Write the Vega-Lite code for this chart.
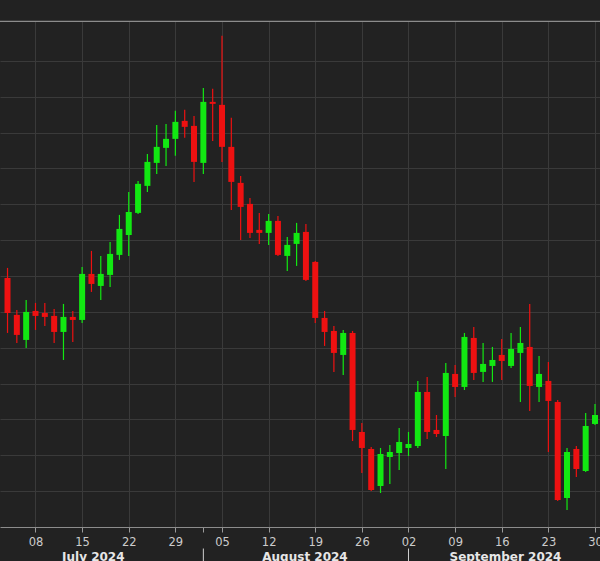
{
  "$schema": "https://vega.github.io/schema/vega-lite/v6.json",
  "width": 600,
  "height": 506,
  "autosize": {"type": "none"},
  "padding": {"left": 0, "top": 21, "right": 0, "bottom": 34},
  "background": "#222222",
  "config": {"view": {"stroke": null}},
  "datasets": {
    "candles": [
      {"d":"2024-07-03","t":-3,"o":6.946,"h":7.225,"l":5.411,"c":5.969},
      {"d":"2024-07-04","t":-2,"o":5.914,"h":6.053,"l":5.132,"c":5.356},
      {"d":"2024-07-05","t":-1,"o":5.216,"h":6.332,"l":4.993,"c":5.997},
      {"d":"2024-07-08","t":0,"o":6.025,"h":6.248,"l":5.495,"c":5.886},
      {"d":"2024-07-09","t":1,"o":5.969,"h":6.248,"l":5.607,"c":5.858},
      {"d":"2024-07-10","t":2,"o":5.886,"h":6.081,"l":5.132,"c":5.439},
      {"d":"2024-07-11","t":3,"o":5.439,"h":6.220,"l":4.658,"c":5.858},
      {"d":"2024-07-12","t":4,"o":5.858,"h":6.025,"l":5.160,"c":5.774},
      {"d":"2024-07-15","t":5,"o":5.774,"h":7.252,"l":5.690,"c":7.057},
      {"d":"2024-07-16","t":6,"o":7.057,"h":7.699,"l":6.555,"c":6.778},
      {"d":"2024-07-17","t":7,"o":6.722,"h":7.559,"l":6.332,"c":7.057},
      {"d":"2024-07-18","t":8,"o":7.029,"h":7.950,"l":6.695,"c":7.615},
      {"d":"2024-07-19","t":9,"o":7.587,"h":8.703,"l":7.448,"c":8.312},
      {"d":"2024-07-22","t":10,"o":8.145,"h":9.344,"l":7.559,"c":8.787},
      {"d":"2024-07-23","t":11,"o":8.759,"h":9.651,"l":8.731,"c":9.568},
      {"d":"2024-07-24","t":12,"o":9.512,"h":10.404,"l":9.344,"c":10.181},
      {"d":"2024-07-25","t":13,"o":10.153,"h":11.213,"l":9.847,"c":10.600},
      {"d":"2024-07-26","t":14,"o":10.572,"h":11.241,"l":10.070,"c":10.823},
      {"d":"2024-07-29","t":15,"o":10.823,"h":11.604,"l":10.349,"c":11.297},
      {"d":"2024-07-30","t":16,"o":11.325,"h":11.632,"l":10.851,"c":11.158},
      {"d":"2024-07-31","t":17,"o":11.185,"h":11.464,"l":9.623,"c":10.181},
      {"d":"2024-08-01","t":18,"o":10.153,"h":12.245,"l":9.847,"c":11.855},
      {"d":"2024-08-02","t":19,"o":11.855,"h":12.218,"l":10.767,"c":11.799},
      {"d":"2024-08-05","t":20,"o":11.771,"h":13.696,"l":10.181,"c":10.600},
      {"d":"2024-08-06","t":21,"o":10.600,"h":11.409,"l":8.842,"c":9.623},
      {"d":"2024-08-07","t":22,"o":9.596,"h":9.791,"l":8.006,"c":8.926},
      {"d":"2024-08-08","t":23,"o":9.010,"h":9.177,"l":8.061,"c":8.201},
      {"d":"2024-08-09","t":24,"o":8.285,"h":8.759,"l":7.894,"c":8.201},
      {"d":"2024-08-12","t":25,"o":8.201,"h":8.731,"l":7.866,"c":8.536},
      {"d":"2024-08-13","t":26,"o":8.536,"h":8.675,"l":7.559,"c":7.587},
      {"d":"2024-08-14","t":27,"o":7.559,"h":8.089,"l":7.141,"c":7.866},
      {"d":"2024-08-15","t":28,"o":7.894,"h":8.480,"l":7.280,"c":8.201},
      {"d":"2024-08-16","t":29,"o":8.229,"h":8.452,"l":6.862,"c":6.890},
      {"d":"2024-08-19","t":30,"o":7.392,"h":7.420,"l":5.690,"c":5.830},
      {"d":"2024-08-20","t":31,"o":5.830,"h":6.025,"l":5.049,"c":5.439},
      {"d":"2024-08-21","t":32,"o":5.467,"h":5.607,"l":4.324,"c":4.854},
      {"d":"2024-08-22","t":33,"o":4.798,"h":5.495,"l":4.240,"c":5.411},
      {"d":"2024-08-23","t":34,"o":5.411,"h":5.467,"l":2.399,"c":2.706},
      {"d":"2024-08-26","t":35,"o":2.650,"h":2.901,"l":1.506,"c":2.204},
      {"d":"2024-08-27","t":36,"o":2.176,"h":2.232,"l":1.004,"c":1.032},
      {"d":"2024-08-28","t":37,"o":1.144,"h":2.204,"l":0.948,"c":2.036},
      {"d":"2024-08-29","t":38,"o":1.953,"h":2.287,"l":1.199,"c":2.092},
      {"d":"2024-08-30","t":39,"o":2.064,"h":2.762,"l":1.590,"c":2.371},
      {"d":"2024-09-02","t":40,"o":2.204,"h":2.650,"l":1.980,"c":2.315},
      {"d":"2024-09-03","t":41,"o":2.259,"h":4.073,"l":2.204,"c":3.766},
      {"d":"2024-09-04","t":42,"o":3.766,"h":4.184,"l":2.455,"c":2.650},
      {"d":"2024-09-05","t":43,"o":2.706,"h":3.124,"l":2.510,"c":2.594},
      {"d":"2024-09-06","t":44,"o":2.538,"h":4.575,"l":1.618,"c":4.296},
      {"d":"2024-09-09","t":45,"o":4.268,"h":4.519,"l":3.626,"c":3.905},
      {"d":"2024-09-10","t":46,"o":3.905,"h":5.411,"l":3.821,"c":5.300},
      {"d":"2024-09-11","t":47,"o":5.272,"h":5.579,"l":4.100,"c":4.296},
      {"d":"2024-09-12","t":48,"o":4.324,"h":5.132,"l":4.045,"c":4.547},
      {"d":"2024-09-13","t":49,"o":4.491,"h":5.021,"l":4.045,"c":4.658},
      {"d":"2024-09-16","t":50,"o":4.798,"h":5.244,"l":4.100,"c":4.630},
      {"d":"2024-09-17","t":51,"o":4.491,"h":5.411,"l":4.435,"c":4.965},
      {"d":"2024-09-18","t":52,"o":4.854,"h":5.579,"l":3.487,"c":5.132},
      {"d":"2024-09-19","t":53,"o":5.021,"h":6.220,"l":3.236,"c":3.933},
      {"d":"2024-09-20","t":54,"o":3.905,"h":4.770,"l":3.487,"c":4.268},
      {"d":"2024-09-23","t":55,"o":4.073,"h":4.603,"l":2.092,"c":3.515},
      {"d":"2024-09-24","t":56,"o":3.487,"h":3.543,"l":0.725,"c":0.753},
      {"d":"2024-09-25","t":57,"o":0.809,"h":2.204,"l":0.474,"c":2.092},
      {"d":"2024-09-26","t":58,"o":2.176,"h":2.259,"l":1.395,"c":1.618},
      {"d":"2024-09-27","t":59,"o":1.562,"h":3.180,"l":1.534,"c":2.817},
      {"d":"2024-09-30","t":60,"o":2.873,"h":3.431,"l":2.845,"c":3.124}
    ],
    "months": [
      {"m":"July 2024","t":6.2},
      {"m":"August 2024","t":28.9},
      {"m":"September 2024","t":50.4}
    ],
    "bounds": [{"b":18},{"b":40}]
  },
  "layer": [
    {
      "data": {"name": "candles"},
      "mark": {"type": "rule", "strokeWidth": 1.2, "clip": true},
      "encoding": {
        "x": {
          "field": "t", "type": "quantitative",
          "scale": {"domain": [-3.27, 60], "nice": false, "zero": false},
          "axis": {
            "values": [0,5,10,15,18,20,25,30,35,40,45,50,55,60],
            "labelExpr": "datum.value % 5 == 0 ? ['08','15','22','29','05','12','19','26','02','09','16','23','30'][datum.value/5] : ''",
            "grid": true,
            "gridColor": {"condition": {"test": "datum.value % 5 != 0", "value": "transparent"}, "value": "#3a3a3a"},
            "gridWidth": 1,
            "domainColor": "#8c8c8c",
            "tickColor": "#9a9a9a",
            "tickSize": 5,
            "labelColor": "#cccccc",
            "labelFont": "DejaVu Sans",
            "labelFontSize": 11.5,
            "labelPadding": 4,
            "labelFlush": false,
            "labelOverlap": false,
            "title": null
          }
        },
        "y": {
          "field": "l", "type": "quantitative",
          "scale": {"domain": [0, 14.11], "nice": false, "zero": false},
          "axis": {
            "values": [1,2,3,4,5,6,7,8,9,10,11,12,13],
            "labels": false, "ticks": false, "domain": false, "title": null,
            "labelOverlap": false,
            "grid": true,
            "gridColor": "#3a3a3a",
            "gridWidth": 1
          }
        },
        "y2": {"field": "h"},
        "color": {"condition": {"test": "datum.c >= datum.o", "value": "#12e812"}, "value": "#ee1111"}
      }
    },
    {
      "data": {"name": "candles"},
      "mark": {"type": "bar", "size": 6, "clip": true},
      "encoding": {
        "x": {"field": "t", "type": "quantitative"},
        "y": {"field": "o", "type": "quantitative"},
        "y2": {"field": "c"},
        "color": {"condition": {"test": "datum.c >= datum.o", "value": "#12e812"}, "value": "#ee1111"}
      }
    },
    {
      "data": {"values": [{"edge": "top"}]},
      "mark": {"type": "rule", "color": "#8c8c8c", "strokeWidth": 1.2, "clip": false},
      "encoding": {
        "y": {"datum": 14.1, "type": "quantitative"}
      }
    },
    {
      "data": {"name": "bounds"},
      "mark": {"type": "rule", "color": "#d0d0d0", "strokeWidth": 1, "clip": false},
      "encoding": {
        "x": {"field": "b", "type": "quantitative"},
        "y": {"datum": -0.6, "type": "quantitative"},
        "y2": {"datum": -1.0}
      }
    },
    {
      "data": {"name": "months"},
      "mark": {"type": "text", "font": "DejaVu Sans", "fontWeight": "bold", "fontSize": 12, "color": "#e6e6e6", "baseline": "alphabetic", "align": "center", "clip": false},
      "encoding": {
        "x": {"field": "t", "type": "quantitative"},
        "y": {"datum": -0.935, "type": "quantitative"},
        "text": {"field": "m"}
      }
    }
  ]
}
